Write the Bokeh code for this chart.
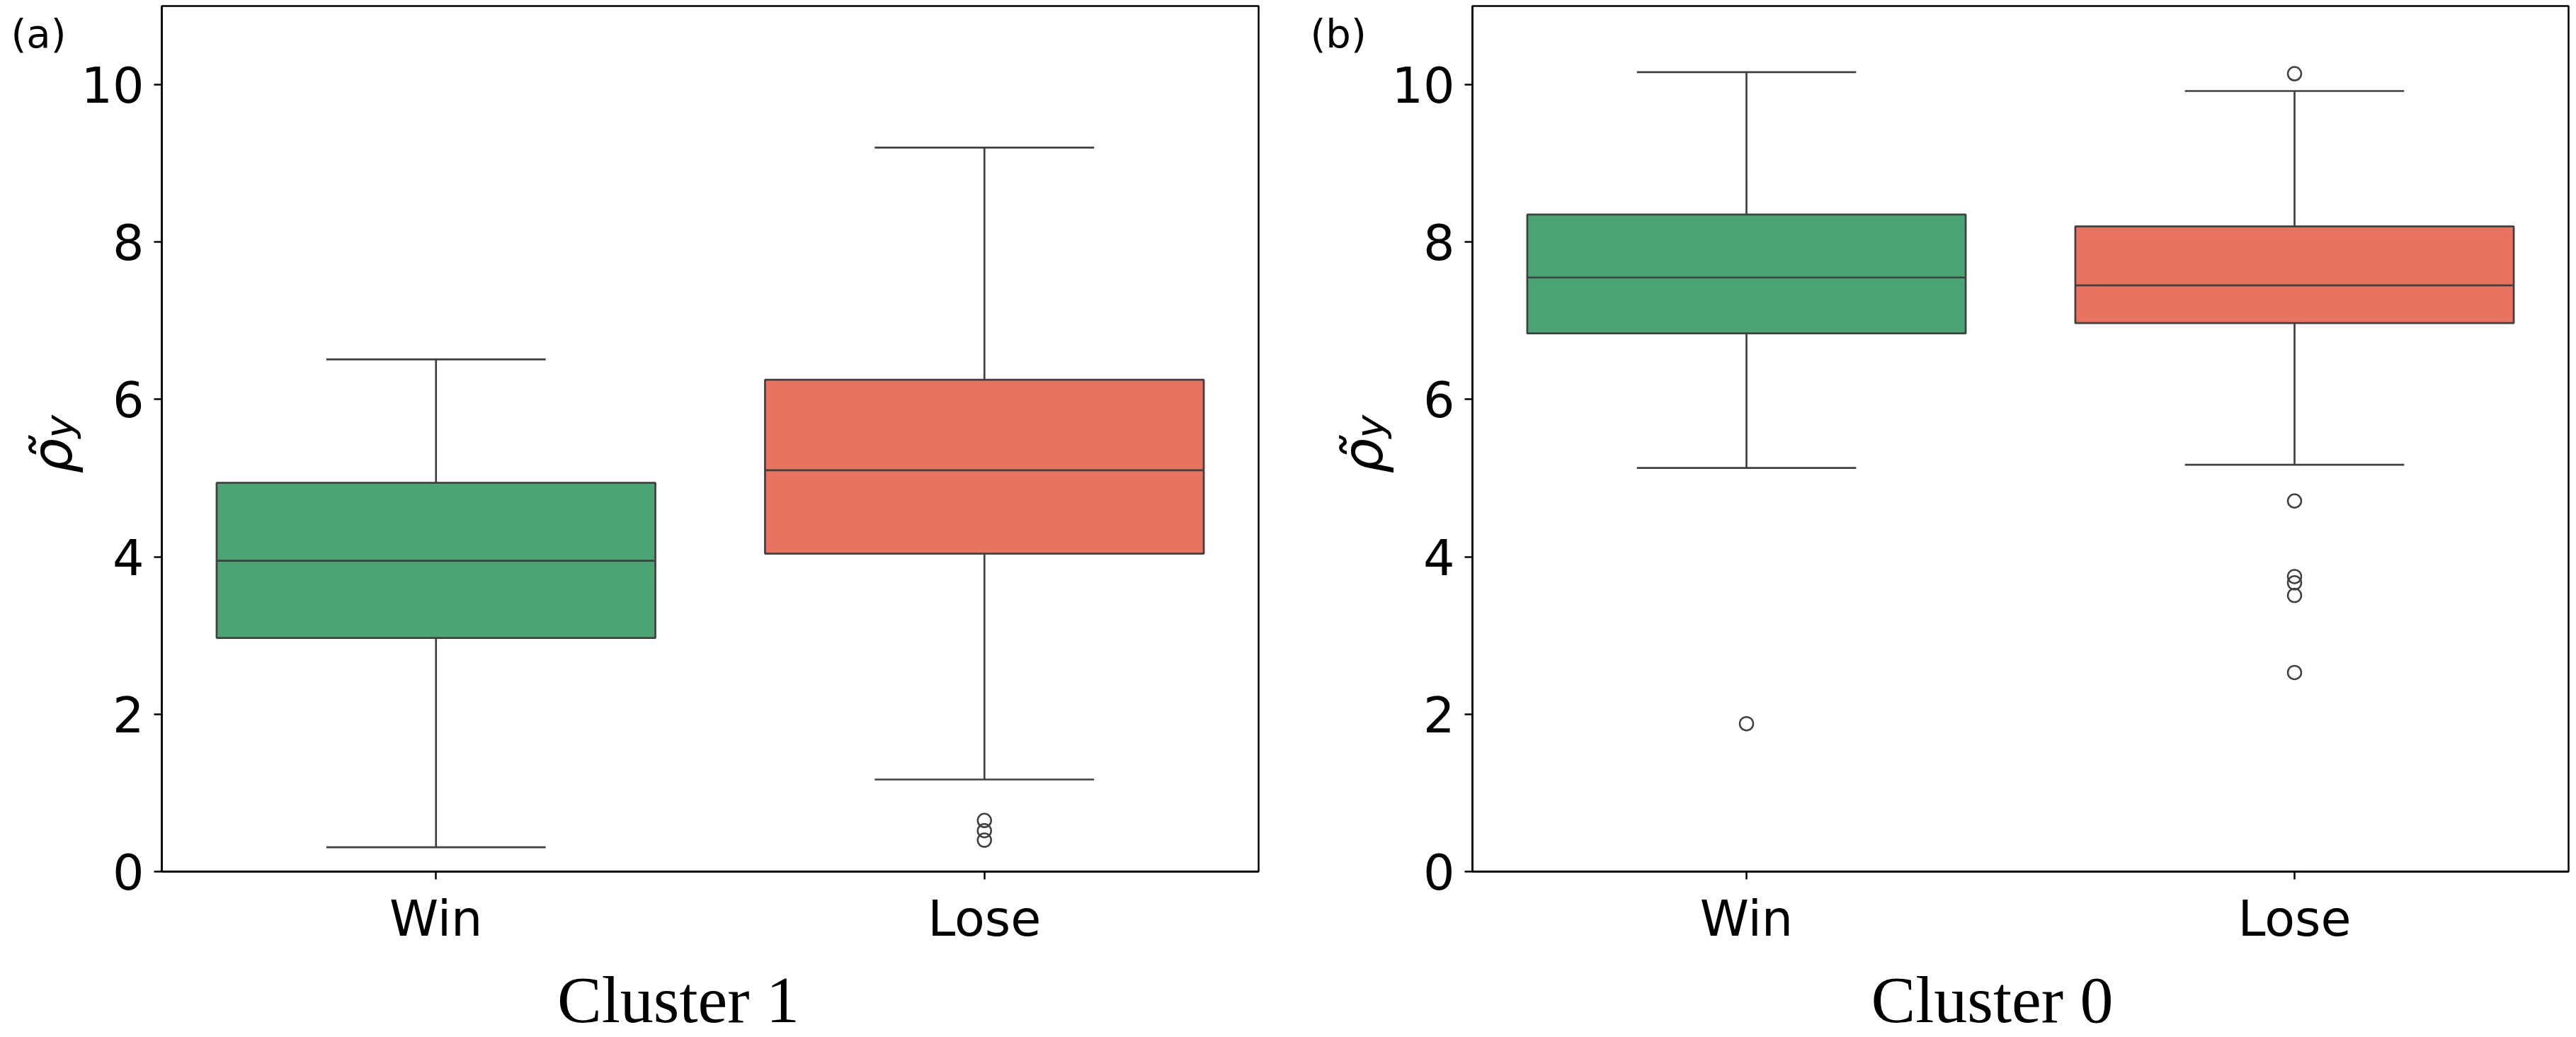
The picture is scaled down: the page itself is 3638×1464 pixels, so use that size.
import numpy as np
from bokeh.plotting import figure
from bokeh.models import FixedTicker, Label, Range1d, GridBox, Row
from bokeh.embed import file_html
from bokeh.resources import INLINE

# ---------------- data ----------------
categories = ["Win", "Lose"]
box_colors = ["#4BA473", "#E8735F"]

# panel (a): Cluster 1
c1_whislo = [0.31, 1.17]
c1_q1 = [2.97, 4.04]
c1_med = [3.95, 5.10]
c1_q3 = [4.94, 6.25]
c1_whishi = [6.51, 9.20]
c1_out_win = []
c1_out_lose = [0.65, 0.52, 0.40]

# panel (b): Cluster 0
c0_whislo = [5.13, 5.17]
c0_q1 = [6.84, 6.97]
c0_med = [7.55, 7.45]
c0_q3 = [8.35, 8.20]
c0_whishi = [10.16, 9.92]
c0_out_win = [1.88]
c0_out_lose = [10.14, 4.71, 3.75, 3.67, 3.51, 2.53]

y_ticks = [0, 2, 4, 6, 8, 10]
panel_tags = ["(a)", "(b)"]
panel_titles = ["Cluster 1", "Cluster 0"]
y_label_main = "\u03c1\u0303"
y_label_sub = "y"

LC = "#404040"
LW = 2.7
W_PAGE = 3638
H = 1464
TOP = 8
BOTTOM = 234


def make_panel(width, left, right, whislo, q1, med, q3, whishi, out_win, out_lose):
    p = figure(width=width, height=H, x_range=Range1d(-0.5, 1.5), y_range=Range1d(0, 11),
               output_backend="svg", toolbar_location=None,
               min_border_left=left, min_border_right=right,
               min_border_top=TOP, min_border_bottom=BOTTOM)
    p.grid.visible = False
    p.background_fill_color = "white"
    p.border_fill_color = "white"
    p.outline_line_color = "black"
    p.outline_line_width = 2.5

    xs = np.arange(len(categories))
    p.segment(x0=xs, x1=xs, y0=q3, y1=whishi, line_color=LC, line_width=LW)
    p.segment(x0=xs, x1=xs, y0=whislo, y1=q1, line_color=LC, line_width=LW)
    p.segment(x0=xs - 0.2, x1=xs + 0.2, y0=whishi, y1=whishi, line_color=LC, line_width=LW)
    p.segment(x0=xs - 0.2, x1=xs + 0.2, y0=whislo, y1=whislo, line_color=LC, line_width=LW)
    p.vbar(x=xs, width=0.8, bottom=q1, top=q3, fill_color=box_colors,
           line_color=LC, line_width=LW)
    p.segment(x0=xs - 0.4, x1=xs + 0.4, y0=med, y1=med, line_color=LC, line_width=LW)
    for i, outs in enumerate([out_win, out_lose]):
        if outs:
            p.scatter(x=[xs[i]] * len(outs), y=outs, marker="circle", size=19,
                      fill_color=None, line_color=LC, line_width=2.5)

    for ax in (p.xaxis[0], p.yaxis[0]):
        ax.axis_line_color = "black"
        ax.axis_line_width = 2.5
        ax.major_tick_line_color = "black"
        ax.major_tick_line_width = 2.5
        ax.major_tick_out = 11
        ax.major_tick_in = 0
        ax.minor_tick_line_color = None
        ax.major_label_text_font = "DejaVu Sans"
        ax.major_label_text_font_size = "70px"
        ax.major_label_text_color = "black"
        ax.major_label_standoff = 14
    p.yaxis.ticker = FixedTicker(ticks=y_ticks)
    p.xaxis.ticker = FixedTicker(ticks=list(xs))
    p.xaxis.major_label_overrides = {int(i): c for i, c in zip(xs, categories)}
    return p


PA_W, PA_L, PA_R = 1830, 228, 53
PB_W, PB_L, PB_R = W_PAGE - 1830, 249, 11

pa = make_panel(PA_W, PA_L, PA_R, c1_whislo, c1_q1, c1_med, c1_q3, c1_whishi,
                c1_out_win, c1_out_lose)
pb = make_panel(PB_W, PB_L, PB_R, c0_whislo, c0_q1, c0_med, c0_q3, c0_whishi,
                c0_out_win, c0_out_lose)

# transparent overlay (page pixel coordinates) for the texts outside the plot boxes
ov = figure(width=W_PAGE, height=H, x_range=Range1d(0, W_PAGE), y_range=Range1d(H, 0),
            output_backend="svg", toolbar_location=None,
            min_border_left=0, min_border_right=0, min_border_top=0, min_border_bottom=0,
            x_axis_location=None, y_axis_location=None)
ov.grid.visible = False
ov.outline_line_color = None
ov.background_fill_alpha = 0
ov.border_fill_alpha = 0

frame_lefts = [PA_L, PA_W + PB_L]
frame_widths = [PA_W - PA_L - PA_R, PB_W - PB_L - PB_R]
title_dx = [-45, -40]
tag_x = [15, 1850]
for k in range(2):
    fl = frame_lefts[k]
    ov.add_layout(Label(x=fl - 155, y=668, text=y_label_main, angle=np.pi / 2,
                        text_font="DejaVu Sans", text_font_style="italic",
                        text_font_size="78px", text_align="left",
                        text_baseline="alphabetic", text_color="black"))
    ov.add_layout(Label(x=fl - 145, y=618, text=y_label_sub, angle=np.pi / 2,
                        text_font="DejaVu Sans", text_font_style="italic",
                        text_font_size="55px", text_align="left",
                        text_baseline="alphabetic", text_color="black"))
    ov.add_layout(Label(x=tag_x[k], y=47, text=panel_tags[k], text_font="DejaVu Sans",
                        text_font_size="56px", text_align="left",
                        text_baseline="alphabetic", text_color="black"))
    ov.add_layout(Label(x=fl + frame_widths[k] / 2 + title_dx[k], y=1410,
                        text=panel_titles[k], text_font="Liberation Serif",
                        text_font_size="94px", text_align="center",
                        text_baseline="alphabetic", text_color="black"))

panels = Row(children=[pa, pb], spacing=0)
layout = GridBox(children=[(panels, 0, 0), (ov, 0, 0)])
open("out.html", "w").write(file_html(layout, INLINE))
